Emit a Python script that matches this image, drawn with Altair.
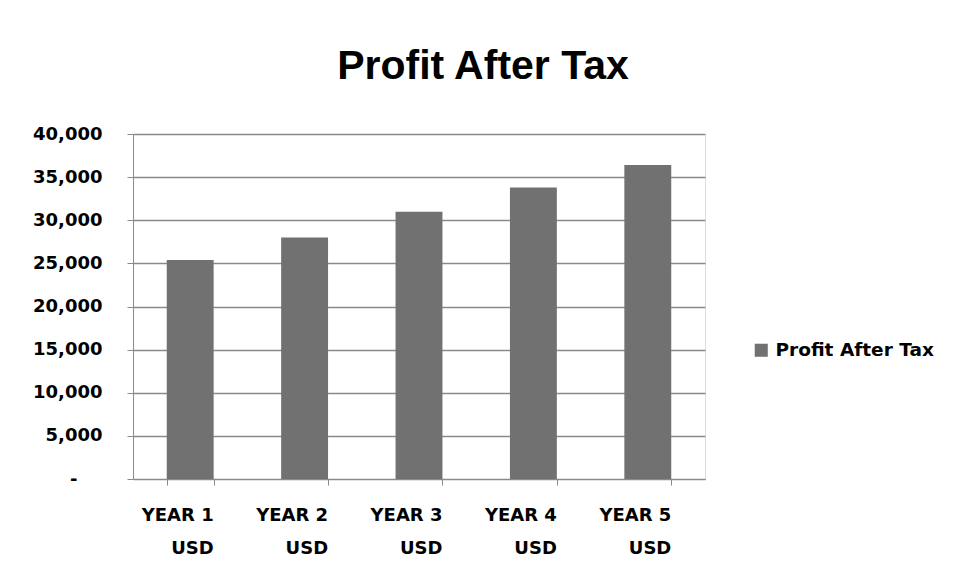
import altair as alt
import pandas as pd

categories = ["YEAR 1", "YEAR 2", "YEAR 3", "YEAR 4", "YEAR 5"]
unit = "USD"
values = [25400, 28000, 31000, 33800, 36400]
series_name = "Profit After Tax"
y_ticks = [0, 5000, 10000, 15000, 20000, 25000, 30000, 35000, 40000]

df = pd.DataFrame({"year": categories, "value": values, "series": [series_name] * len(categories)})

bold = "DejaVu Sans"
grid_col = "#8a8a8a"

chart = alt.Chart(df).mark_bar(color="#717171").encode(
    x=alt.X(
        "year:N",
        sort=categories,
        title=None,
        scale=alt.Scale(paddingInner=0.59, paddingOuter=0.295),
        axis=alt.Axis(
            labelAngle=0,
            labelAlign="right",
            labelBaseline="top",
            labelOffset=23,
            labelPadding=21,
            labelLineHeight=33,
            labelExpr=f"datum.label ? [datum.label, '{unit}'] : ''",
            labelFont=bold,
            labelFontWeight="bold",
            labelFontSize=18,
            labelColor="#000000",
            tickBand="extent",
            tickSize=6,
            tickColor=grid_col,
            domainColor=grid_col,
            grid=False,
        ),
    ),
    y=alt.Y(
        "value:Q",
        title=None,
        scale=alt.Scale(domain=[0, 40000], nice=False),
        axis=alt.Axis(
            values=y_ticks,
            labelExpr="datum.value == 0 ? '-' : format(datum.value, ',')",
            labelFont=bold,
            labelFontWeight="bold",
            labelFontSize=18,
            labelColor="#000000",
            labelPadding={"condition": {"test": "datum.value == 0", "value": 50}, "value": 25},
            tickSize=6,
            tickColor=grid_col,
            domainColor=grid_col,
            gridColor=grid_col,
            gridWidth=1.3,
            gridOpacity=1,
        ),
    ),
    color=alt.Color(
        "series:N",
        scale=alt.Scale(range=["#717171"]),
        legend=alt.Legend(
            title=None,
            orient="none",
            legendX=619,
            legendY=207,
            symbolType="square",
            symbolSize=170,
            symbolStrokeWidth=0,
            labelFont=bold,
            labelFontWeight="bold",
            labelFontSize=18.5,
            labelColor="#000000",
            labelOffset=5,
        ),
    ),
).properties(
    width=572,
    height=345,
    title=alt.TitleParams(
        text="Profit After Tax",
        font="Liberation Sans",
        fontSize=41,
        fontWeight="bold",
        color="#000000",
        anchor="middle",
        frame="group",
        dx=64,
        dy=52,
        baseline="alphabetic",
        offset=57,
    ),
    autosize=alt.AutoSizeParams(type="none"),
    padding={"left": 125, "top": 126, "right": 242, "bottom": 84},
).configure_view(stroke=None).configure(background="#ffffff")

chart.save("out.html", embed_options={"renderer": "svg", "actions": False})
